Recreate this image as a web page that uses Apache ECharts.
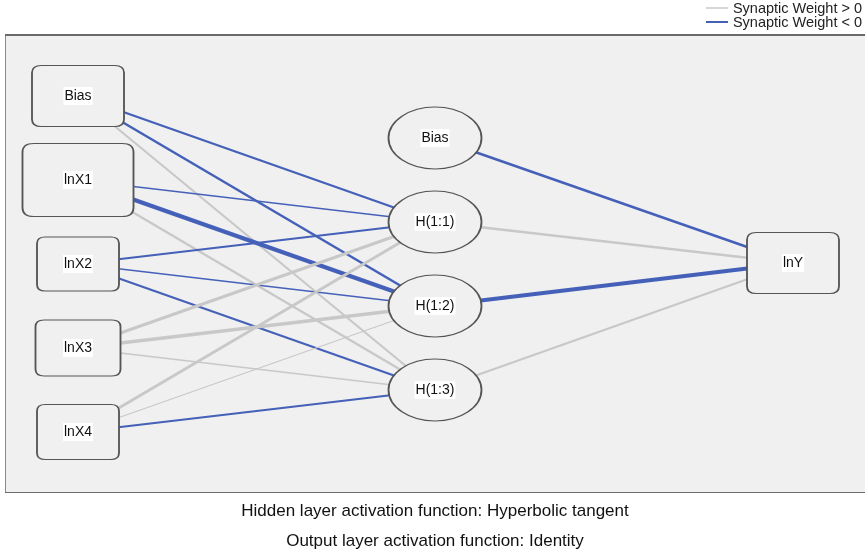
<!DOCTYPE html>
<html>
<head>
<meta charset="utf-8">
<script src="https://cdn.jsdelivr.net/npm/echarts@6/dist/echarts.min.js"></script>
<style>
  html, body { margin: 0; padding: 0; background: #fff; }
  #chart { width: 865px; height: 552px; }
</style>
</head>
<body>
<div id="chart"></div>
<script>
// layers of the network
const inputNodes = ['Bias', 'lnX1', 'lnX2', 'lnX3', 'lnX4']
const hiddenNodes = ['Bias', 'H(1:1)', 'H(1:2)', 'H(1:3)']
const outputNodes = ['lnY']

// synaptic weights, input -> hidden (rows: inputs, cols: H(1:1..3))
const inputWeights = [
  [-0.45, -0.5, 0.4],
  [-0.15, -1.0, 0.45],
  [-0.4, -0.2, -0.4],
  [0.65, 0.75, 0.25],
  [0.6, 0.15, -0.3]
]
// hidden -> output (Bias, H(1:1), H(1:2), H(1:3))
const outputWeights = [-0.5, 0.45, -1.0, 0.45]

const footnotes = [
  'Hidden layer activation function: Hyperbolic tangent',
  'Output layer activation function: Identity'
]

// layout (pixel space of the 865x552 canvas)
const inputPos = [[78, 96], [78, 180], [78, 264], [78, 348], [78, 432]]
const inputSize = [[92, 61], [111, 73], [82, 54], [85, 56], [82, 55]]
const hiddenPos = [[435, 138], [435, 222], [435, 306], [435, 390]]
const hiddenSize = [93, 62]
const outputPos = [[793, 263]]
const outputSize = [92, 61]

const POS_COLOR = '#c8c8c8'
const NEG_COLOR = '#4560b8'
const FONT = 'Liberation Sans'

const roundRect = 'path://M10,0 H90 Q100,0 100,12 V88 Q100,100 90,100 H10 Q0,100 0,88 V12 Q0,0 10,0 Z'
const ellipse = 'path://M0,50 A50,50 0 1,1 100,50 A50,50 0 1,1 0,50 Z'

const nodes = []
inputNodes.forEach((n, i) => nodes.push({ name: 'in_' + i, label: { formatter: n }, value: inputPos[i], symbol: roundRect, symbolSize: inputSize[i] }))
hiddenNodes.forEach((n, i) => nodes.push({ name: 'hid_' + i, label: { formatter: n }, value: hiddenPos[i], symbol: ellipse, symbolSize: hiddenSize }))
outputNodes.forEach((n, i) => nodes.push({ name: 'out_' + i, label: { formatter: n }, value: outputPos[i], symbol: roundRect, symbolSize: outputSize }))

const edgeStyle = (w) => ({
  color: w > 0 ? POS_COLOR : NEG_COLOR,
  width: 0.8 + 3.4 * Math.abs(w),
  opacity: 1,
  curveness: 0
})

const links = []
inputWeights.forEach((row, i) => {
  row.forEach((w, j) => links.push({ source: 'in_' + i, target: 'hid_' + (j + 1), lineStyle: edgeStyle(w) }))
})
outputWeights.forEach((w, j) => links.push({ source: 'hid_' + j, target: 'out_0', lineStyle: edgeStyle(w) }))

const chart = echarts.init(document.getElementById('chart'))
chart.setOption({
  animation: false,
  grid: { left: 0, right: 0, top: 0, bottom: 0 },
  xAxis: { type: 'value', min: 0, max: 865, show: false },
  yAxis: { type: 'value', min: 0, max: 552, inverse: true, show: false },
  graphic: [
    { type: 'rect', z: -10, shape: { x: 5.5, y: 35.5, width: 880, height: 457 }, style: { fill: '#f0f0f0', stroke: '#8a8a8a', lineWidth: 1 } },
    { type: 'line', z: -9, shape: { x1: 5, y1: 35, x2: 865, y2: 35 }, style: { stroke: '#6a6a6a', lineWidth: 2 } },
    { type: 'line', z: -9, shape: { x1: 5, y1: 492.5, x2: 865, y2: 492.5 }, style: { stroke: '#6a6a6a', lineWidth: 1 } },
    { type: 'line', shape: { x1: 706, y1: 8, x2: 728, y2: 8 }, style: { stroke: POS_COLOR, lineWidth: 1.5 } },
    { type: 'line', shape: { x1: 706, y1: 22, x2: 728, y2: 22 }, style: { stroke: NEG_COLOR, lineWidth: 2 } },
    { type: 'text', x: 862, y: 9, style: { text: 'Synaptic Weight > 0', font: '14.5px "' + FONT + '"', fill: '#222', textAlign: 'right', textVerticalAlign: 'middle' } },
    { type: 'text', x: 862, y: 23, style: { text: 'Synaptic Weight < 0', font: '14.5px "' + FONT + '"', fill: '#222', textAlign: 'right', textVerticalAlign: 'middle' } },
    { type: 'text', x: 435, y: 511, style: { text: footnotes[0], font: '17px "' + FONT + '"', fill: '#111', textAlign: 'center', textVerticalAlign: 'middle' } },
    { type: 'text', x: 435, y: 541, style: { text: footnotes[1], font: '17px "' + FONT + '"', fill: '#111', textAlign: 'center', textVerticalAlign: 'middle' } }
  ],
  series: [
    {
      type: 'graph',
      coordinateSystem: 'cartesian2d',
      layout: 'none',
      z: 2,
      data: nodes,
      links: links,
      itemStyle: { color: '#f0f0f0', borderColor: '#555', borderWidth: 1.5 },
      label: {
        show: true,
        position: 'inside',
        color: '#111',
        fontFamily: FONT,
        fontSize: 14,
        backgroundColor: '#fff',
        padding: [2, 1]
      },
      emphasis: { disabled: true }
    }
  ]
})
</script>
</body>
</html>
